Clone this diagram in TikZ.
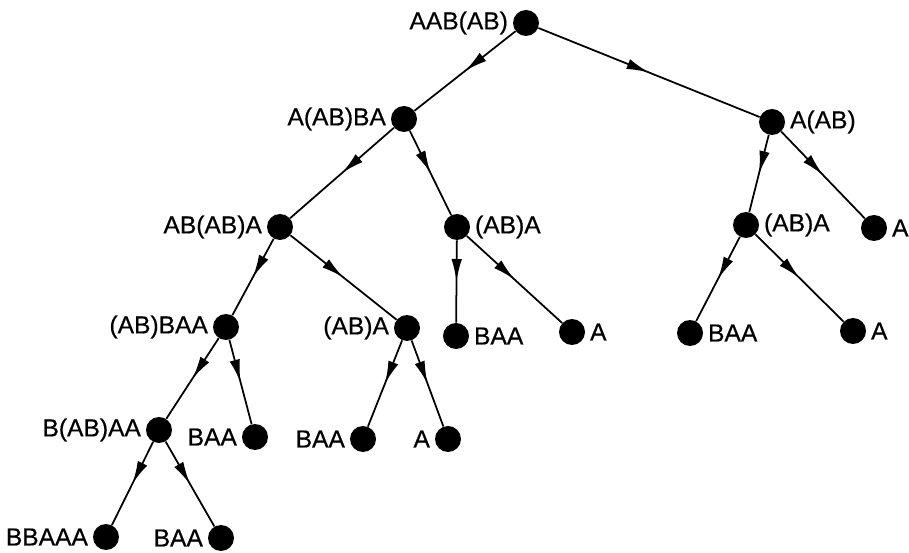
\documentclass[tikz,border=0pt]{standalone}
\usepackage{fontspec}
\setmainfont{Liberation Sans}
\newfontfamily\wordfont[FakeBold=0.6]{Liberation Sans}
\usetikzlibrary{arrows.meta,decorations.markings}

\tikzset{
  wnode/.style={circle,fill=black,inner sep=0pt,minimum size=0.52cm},
  every label/.style={font=\wordfont\fontsize{14}{16}\selectfont,inner sep=2.5pt},
  wedge/.style={line width=1pt,postaction={decorate},
    decoration={markings,mark=at position 0.5 with {\arrow{Latex[length=4.5mm,width=2.1mm]}}}},
}

\begin{document}
\begin{tikzpicture}[x=0.02cm,y=-0.02cm]
        \useasboundingbox (0,0) rectangle (909,553);

        \node[wnode,label=left:AAB(AB)] (r) at (526,23) {};

        \node[wnode,label=left:A(AB)BA] (a) at (404,119) {};
        \node[wnode,label=right:A(AB)] (b) at (772,122) {};

        \node[wnode,label=left:AB(AB)A] (aa) at (280,227) {};
        \node[wnode,label=right:(AB)A] (ab) at (457,227) {};
        \node[wnode,label=right:(AB)A] (ba) at (746,225) {};
        \node[wnode,label=right:A] (bb) at (874,228) {};

        \node[wnode,label=left:(AB)BAA] (aaa) at (226,327) {};
        \node[wnode,label=left:(AB)A] (aab) at (407,328) {};
        \node[wnode,label=right:BAA] (aba) at (456,336) {};
        \node[wnode,label=right:A] (abb) at (572,332) {};
        \node[wnode,label=right:BAA] (baa) at (690,333) {};
        \node[wnode,label=right:A] (bab) at (853,331) {};

        \node[wnode,label=left:B(AB)AA] (aaaa) at (159,430) {};
        \node[wnode,label=left:BAA] (aaab) at (255,437) {};
        \node[wnode,label=left:BAA] (aaba) at (363,439) {};
        \node[wnode,label=left:A] (aabb) at (448,439) {};

        \node[wnode,label=left:BBAAA] (aaaaa) at (106,537) {};
        \node[wnode,label=left:BAA] (aaaab) at (221,538) {};

        \draw[wedge] (r) -- (a);
        \draw[wedge] (r) -- (b);
        \draw[wedge] (a) -- (aa);
        \draw[wedge] (a) -- (ab);
        \draw[wedge] (b) -- (ba);
        \draw[wedge] (b) -- (bb);
        \draw[wedge] (aa) -- (aaa);
        \draw[wedge] (aa) -- (aab);
        \draw[wedge] (ab) -- (aba);
        \draw[wedge] (ab) -- (abb);
        \draw[wedge] (ba) -- (baa);
        \draw[wedge] (ba) -- (bab);
        \draw[wedge] (aaa) -- (aaaa);
        \draw[wedge] (aaa) -- (aaab);
        \draw[wedge] (aab) -- (aaba);
        \draw[wedge] (aab) -- (aabb);
        \draw[wedge] (aaaa) -- (aaaaa);
        \draw[wedge] (aaaa) -- (aaaab);
    \end{tikzpicture}
\end{document}
